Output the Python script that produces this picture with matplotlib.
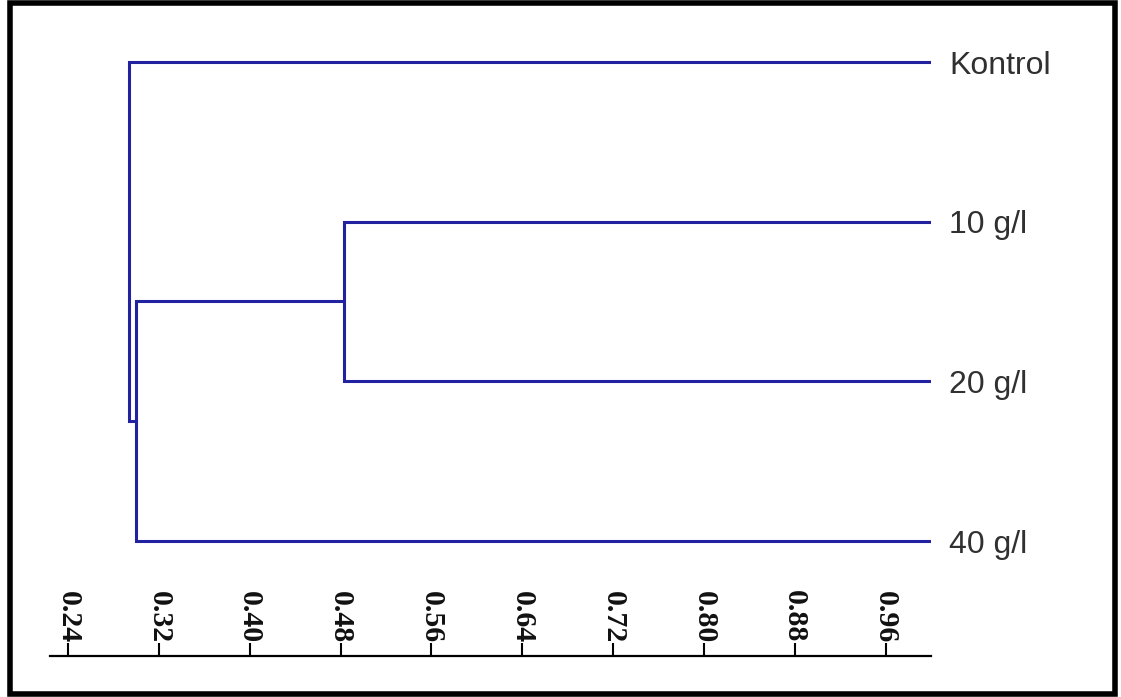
import matplotlib.pyplot as plt
from matplotlib.patches import Rectangle
from matplotlib.transforms import blended_transform_factory

# leaves from top to bottom and their similarity level
etiketler = ['Kontrol', '10 g/l', '20 g/l', '40 g/l']
yaprak_y = [3, 2, 1, 0]
yaprak_x = 1.0

# merge steps: (left child, right child, similarity)
birlesmeler = [
    ('10 g/l', '20 g/l', 0.483),
    ('k1', '40 g/l', 0.300),
    ('Kontrol', 'k2', 0.294),
]

eksen_degerleri = [0.24, 0.32, 0.40, 0.48, 0.56, 0.64, 0.72, 0.80, 0.88, 0.96]

renk = '#2222a0'

W, H = 1121, 697
fig = plt.figure(figsize=(W / 100, H / 100), dpi=100)
ax = fig.add_axes([50 / W, 41 / H, 881 / W, 626 / H])

# node positions (x = similarity, y = vertical position)
dugum = {ad: (yaprak_x, y) for ad, y in zip(etiketler, yaprak_y)}
for i, (a, b, s) in enumerate(birlesmeler, start=1):
    xa, ya = dugum[a]
    xb, yb = dugum[b]
    ax.plot([xa, s, s, xb], [ya, ya, yb, yb], color=renk, lw=2.2,
            solid_joinstyle='miter', solid_capstyle='butt')
    dugum['k%d' % i] = (s, (ya + yb) / 2)

for ad, y in zip(etiketler, yaprak_y):
    ax.annotate(ad, (yaprak_x, y), xytext=(13, -8.5), textcoords='offset points',
                va='baseline', ha='left', fontsize=23, color='#303030',
                family='Liberation Sans', annotation_clip=False)

ax.set_xlim(0.224, 1.0)
ax.set_ylim(-0.72, 3.2)
ax.set_yticks([])
for k in ['top', 'right', 'left']:
    ax.spines[k].set_visible(False)
ax.spines['bottom'].set_linewidth(1.6)
ax.set_xticks(eksen_degerleri)
ax.tick_params(axis='x', direction='in', length=9.5, width=1.5, labelbottom=False)

# rotated tick labels sitting above the axis line
tr = blended_transform_factory(ax.transData, ax.transAxes)
for v in eksen_degerleri:
    ax.text(v, 0.021, '%.2f' % v, transform=tr, rotation=-90, ha='center',
            va='bottom', fontsize=21.5, fontweight='bold', family='Liberation Serif',
            color='#111111')

# black frame around the whole figure
fig.patches.append(Rectangle((10 / W, 3 / H), 1105 / W, 691 / H, transform=fig.transFigure,
                             fill=False, edgecolor='black', lw=4))

fig.savefig('out.png', dpi=100)
